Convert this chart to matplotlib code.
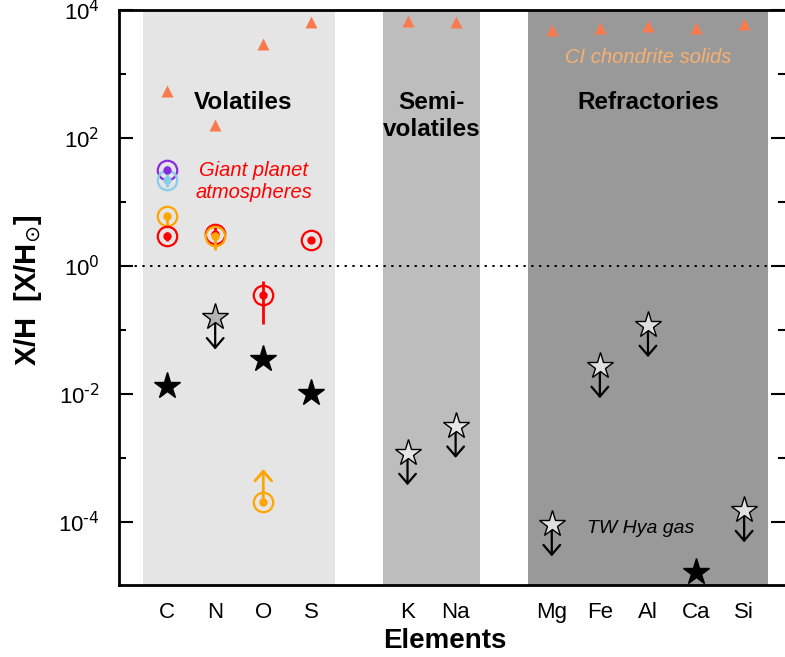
import numpy as np
import matplotlib
matplotlib.use("Agg")
import matplotlib.pyplot as plt

plt.rcParams["font.family"] = ["Liberation Sans", "DejaVu Sans"]

# element layout
elements = ["C", "N", "O", "S", "K", "Na", "Mg", "Fe", "Al", "Ca", "Si"]
xpos = [0, 1, 2, 3, 5, 6, 8, 9, 10, 11, 12]

# CI chondrite solids
ci_values = [540, 160, 2950, 6500, 6700, 6500, 4900, 5200, 5600, 5200, 6000]

# TW Hya gas: detections (black) and upper limits (light stars)
tw_det_el = ["C", "O", "S", "Ca"]
tw_det_val = [0.0133, 0.036, 0.0105, 1.65e-5]
tw_lim_el = ["N", "K", "Na", "Mg", "Fe", "Al", "Si"]
tw_lim_val = [0.158, 1.2e-3, 3.2e-3, 9.3e-5, 0.0274, 0.12, 1.54e-4]
tw_lim_fill = ["#b4b4b4", "#e6e6e6", "#e6e6e6", "#e0e0e0", "#e0e0e0", "#e0e0e0", "#e0e0e0"]

# giant planet atmospheres: element, value, lower err, upper err, colour
gp_el = ["C", "C", "C", "C", "N", "N", "S", "O"]
gp_val = [31.6, 22.0, 6.0, 2.95, 3.2, 3.0, 2.6, 0.36]
gp_lo = [27.0, 17.0, 3.9, 2.5, 2.0, 1.8, 2.6, 0.124]
gp_hi = [37.0, 28.0, 6.0, 3.4, 4.6, 3.0, 2.6, 0.59]
gp_col = ["#8a2be2", "#87ceeb", "#ffa500", "#ff0000", "#ff0000", "#ffa500", "#ff0000", "#ff0000"]
# lower limit (O, orange)
gp_ll_el = "O"
gp_ll_val = 2.05e-4

groups = [(-0.5, 3.5, "#e5e5e5"), (4.5, 6.5, "#bdbdbd"), (7.5, 12.5, "#999999")]

ytick_vals = [1e-4, 1e-2, 1e0, 1e2, 1e4]
ytick_labels = [r"10$^{\text{-4}}$", r"10$^{\text{-2}}$", r"10$^{0}$", r"10$^{2}$", r"10$^{4}$"]

xmap = dict(zip(elements, xpos))
arrow_style = "->,head_length=0.7,head_width=0.6"

fig = plt.figure(figsize=(7.85, 6.57), dpi=100)
ax = fig.add_axes([0.1516, 0.1096, 0.8484, 0.8752])

for x0, x1, col in groups:
    ax.axvspan(x0, x1, color=col, zorder=0, lw=0)

ax.axhline(1.0, color="black", ls=(0, (1.2, 2.8)), lw=1.4, zorder=1)

# CI chondrites
ax.plot(xpos, ci_values, ls="none", marker="^", ms=8, color="#fa7a4e", mec="none", zorder=3)

# TW Hya upper limits
for el, v, fc in zip(tw_lim_el, tw_lim_val, tw_lim_fill):
    x = xmap[el]
    ax.annotate("", xy=(x, v / 10 ** 0.5), xytext=(x, v),
                arrowprops=dict(arrowstyle=arrow_style, color="black", lw=1.6,
                                mutation_scale=10, shrinkA=0, shrinkB=0),
                zorder=3)
    ax.plot([x], [v], marker="*", ms=20, mfc=fc, mec="black", mew=1.0, ls="none", zorder=4)

# TW Hya detections
ax.plot([xmap[e] for e in tw_det_el], tw_det_val, marker="*", ms=20, color="black",
        ls="none", zorder=4)

# giant planets
for el, v, lo, hi, col in zip(gp_el, gp_val, gp_lo, gp_hi, gp_col):
    x = xmap[el]
    ax.errorbar([x], [v], yerr=[[v - lo], [hi - v]], fmt="none", ecolor=col, elinewidth=2,
                capsize=0, zorder=5)
    ax.plot([x], [v], marker="o", ms=14, mfc="none", mec=col, mew=1.6, ls="none", zorder=5)
    ax.plot([x], [v], marker="o", ms=5, color=col, ls="none", zorder=6)

x = xmap[gp_ll_el]
ax.annotate("", xy=(x, gp_ll_val * 10 ** 0.52), xytext=(x, gp_ll_val),
            arrowprops=dict(arrowstyle=arrow_style, color="#ffa500", lw=2,
                            mutation_scale=10, shrinkA=0, shrinkB=0),
            zorder=5)
ax.plot([x], [gp_ll_val], marker="o", ms=14, mfc="none", mec="#ffa500", mew=1.6, ls="none", zorder=5)
ax.plot([x], [gp_ll_val], marker="o", ms=5, color="#ffa500", ls="none", zorder=6)

# labels
ax.text(1.58, 360, "Volatiles", fontsize=17.5, fontweight="bold", ha="center", va="center")
ax.text(5.5, 220, "Semi-\nvolatiles", fontsize=17.5, fontweight="bold", ha="center", va="center",
        linespacing=1.2)
ax.text(10.0, 360, "Refractories", fontsize=17.5, fontweight="bold", ha="center", va="center")
ax.text(10.0, 1780, "CI chondrite solids", fontsize=14.5, fontstyle="italic", color="#f7b070",
        ha="center", va="center")
ax.text(1.8, 21, "Giant planet\natmospheres", fontsize=14.5, fontstyle="italic",
        color="#ff0000", ha="center", va="center", linespacing=1.15)
ax.text(9.85, 8e-5, "TW Hya gas", fontsize=14, fontstyle="italic", color="black",
        ha="center", va="center")

ax.set_yscale("log")
ax.set_ylim(1.05e-5, 1e4)
ax.set_xlim(-1, 12.85)
ax.set_xticks(xpos)
ax.set_xticklabels(elements, fontsize=16)
ax.set_yticks(ytick_vals)
ax.set_yticklabels(ytick_labels, fontsize=16)
ax.set_yticks([1e-3, 1e-1, 1e1, 1e3], minor=True)
ax.yaxis.set_minor_formatter(matplotlib.ticker.NullFormatter())
ax.tick_params(axis="y", which="major", direction="in", length=10, width=1.5, right=True, pad=14)
ax.tick_params(axis="y", which="minor", direction="in", length=5, width=1.5, right=True)
ax.tick_params(axis="x", length=0, pad=12)

for s in ax.spines.values():
    s.set_linewidth(2)
ax.spines["right"].set_visible(False)

ax.set_xlabel("Elements", fontsize=20, fontweight="bold")
ax.xaxis.set_label_coords(0.489, -0.074)
ax.set_ylabel(r"X/H  [X/H$_{\odot}$]", fontsize=21, fontweight="bold")
ax.yaxis.set_label_coords(-0.112, 0.513)

fig.savefig("out.png", dpi=100)
